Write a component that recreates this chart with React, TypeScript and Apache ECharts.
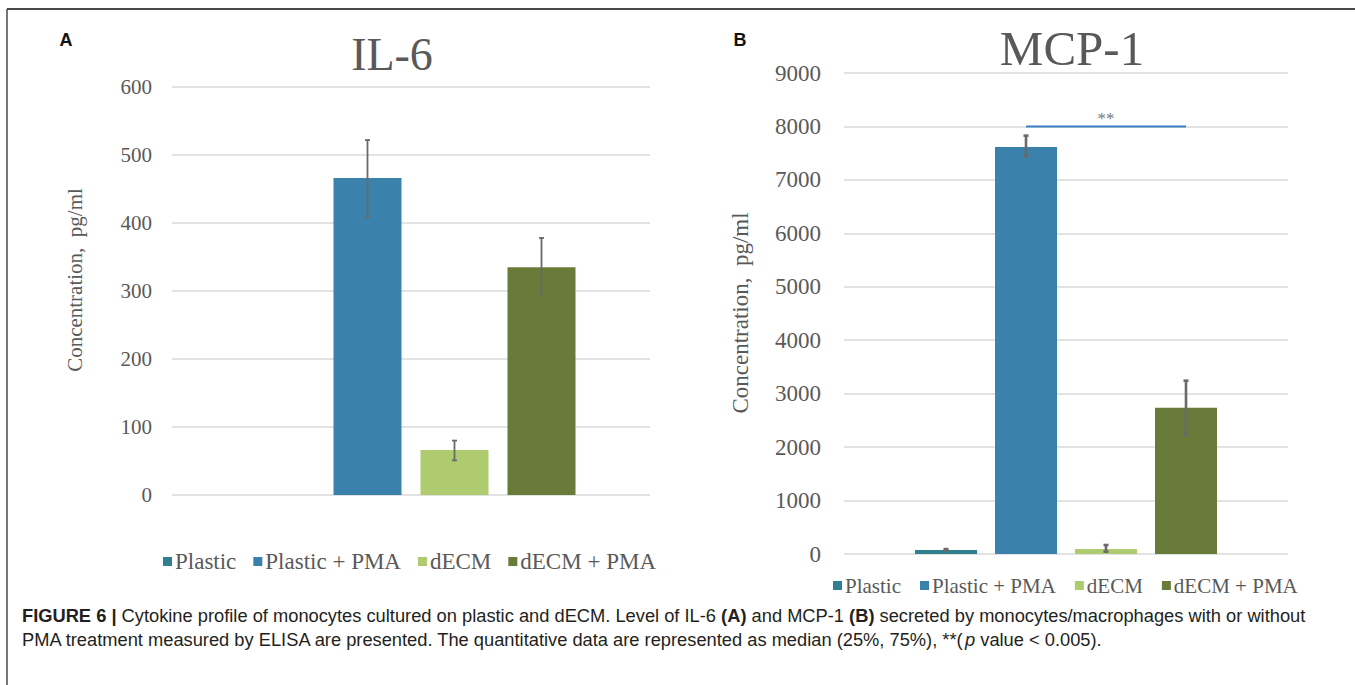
import { useEffect, useRef } from "react";
import * as echarts from "echarts";

// ---------- data ----------
const seriesNames = ["Plastic", "Plastic + PMA", "dECM", "dECM + PMA"];
const seriesColors = ["#2f7f91", "#3a82ab", "#aecb6f", "#687b38"];
const legendColors = ["#2f7f91", "#3a82ab", "#aecb6f", "#687b38"];

const il6Title = "IL-6";
const il6Median = [0, 466, 66, 335];
const il6Low: (number | null)[] = [null, 409, 51, 295];
const il6High: (number | null)[] = [null, 522, 80, 378];
const il6Axis = { min: 0, max: 600, interval: 100 };

const mcp1Title = "MCP-1";
const mcp1Median = [75, 7616, 94, 2738];
const mcp1Low: (number | null)[] = [62, 7435, 43, 2227];
const mcp1High: (number | null)[] = [92, 7828, 168, 3243];
const mcp1Axis = { min: 0, max: 9000, interval: 1000 };

const sigFrom = 1;
const sigTo = 3;
const sigLevel = 8000;
const sigLabel = "**";

const yAxisName = "Concentration,  pg/ml";
const captionLine1 =
  "{b|FIGURE 6 |} Cytokine profile of monocytes cultured on plastic and dECM. Level of IL-6 {b|(A)} and MCP-1 {b|(B)} secreted by monocytes/macrophages with or without";
const captionLine2 =
  "PMA treatment measured by ELISA are presented. The quantitative data are represented as median (25%, 75%), **({i|p} value < 0.005).";

// ---------- styles ----------
const SERIF = '"Liberation Serif", "Times New Roman", serif';
const SANS = '"Liberation Sans", Arial, sans-serif';
const GREY = "#595959";
const CAP_SIZE = 18.3;

type Panel = {
  grid: { left: number; top: number; width: number; height: number };
  barWidth: number;
  gap: number;
  tickSize: number;
  errWidth: number;
};

const panelA: Panel = {
  grid: { left: 172, top: 87, width: 478, height: 408 },
  barWidth: 68,
  gap: 19,
  tickSize: 21,
  errWidth: 1.8,
};
const panelB: Panel = {
  grid: { left: 844, top: 73, width: 444, height: 481 },
  barWidth: 62,
  gap: 18,
  tickSize: 23,
  errWidth: 2.6,
};

function errorSeries(
  axisIndex: number,
  low: (number | null)[],
  high: (number | null)[],
  p: Panel
) {
  const data: number[][] = [];
  low.forEach((l, i) => {
    const h = high[i];
    if (l != null && h != null) data.push([0, l, h, i]);
  });
  const step = p.barWidth + p.gap;
  return {
    type: "custom",
    xAxisIndex: axisIndex,
    yAxisIndex: axisIndex,
    z: 5,
    silent: true,
    encode: { x: 0, y: [1, 2] },
    data,
    renderItem: (_params: any, api: any) => {
      const idx = api.value(3);
      const lo = api.coord([api.value(0), api.value(1)]);
      const hi = api.coord([api.value(0), api.value(2)]);
      const x = lo[0] + (idx - (seriesNames.length - 1) / 2) * step;
      const style = { stroke: "#6a6a6a", lineWidth: p.errWidth };
      const cap = 2.5;
      return {
        type: "group",
        children: [
          { type: "line", shape: { x1: x, y1: lo[1], x2: x, y2: hi[1] }, style },
          { type: "line", shape: { x1: x - cap, y1: lo[1], x2: x + cap, y2: lo[1] }, style },
          { type: "line", shape: { x1: x - cap, y1: hi[1], x2: x + cap, y2: hi[1] }, style },
        ],
      };
    },
  };
}

export default function App() {
  const ref = useRef<HTMLDivElement>(null);

  useEffect(() => {
    if (!ref.current) return;
    const chart = echarts.init(ref.current, undefined, { renderer: "svg" });

    const panels = [panelA, panelB];
    const axes = [il6Axis, mcp1Axis];

    const barSeries: any[] = [];
    [il6Median, mcp1Median].forEach((vals, ai) => {
      const p = panels[ai];
      seriesNames.forEach((name, si) => {
        barSeries.push({
          type: "bar",
          name,
          xAxisIndex: ai,
          yAxisIndex: ai,
          data: [vals[si]],
          barWidth: p.barWidth,
          barGap: `${(p.gap / p.barWidth) * 100}%`,
          itemStyle: { color: seriesColors[si] },
          silent: true,
        });
      });
    });

    const stepB = panelB.barWidth + panelB.gap;
    const sigSeries = {
      type: "custom",
      xAxisIndex: 1,
      yAxisIndex: 1,
      z: 6,
      silent: true,
      data: [[0, sigLevel, sigFrom, sigTo]],
      renderItem: (_params: any, api: any) => {
        const c = api.coord([api.value(0), api.value(1)]);
        const mid = (seriesNames.length - 1) / 2;
        const x1 = c[0] + (api.value(2) - mid) * stepB;
        const x2 = c[0] + (api.value(3) - mid) * stepB;
        return {
          type: "group",
          children: [
            {
              type: "line",
              shape: { x1, y1: c[1], x2, y2: c[1] },
              style: { stroke: "#3a7fc4", lineWidth: 2 },
            },
            {
              type: "text",
              x: (x1 + x2) / 2,
              y: c[1] - 8,
              style: {
                text: sigLabel,
                fontSize: 17,
                fontFamily: SERIF,
                fill: "#777",
                align: "center",
                verticalAlign: "middle",
              },
            },
          ],
        };
      },
    };

    const legendBase = (left: number, top: number, size: number, gap: number) => ({
      left,
      top,
      data: seriesNames.map((n, i) => ({ name: n, itemStyle: { color: legendColors[i] } })),
      icon: "rect",
      itemWidth: 9,
      itemHeight: 9,
      itemGap: gap,
      textStyle: { color: GREY, fontFamily: SERIF, fontSize: size, padding: [0, 0, 0, -2] },
      selectedMode: false,
    });

    const option: any = {
      animation: false,
      backgroundColor: "#ffffff",
      grid: panels.map((p) => ({ ...p.grid, containLabel: false })),
      xAxis: panels.map((_, i) => ({
        type: "category",
        gridIndex: i,
        data: [""],
        axisLine: { show: false },
        axisTick: { show: false },
        axisLabel: { show: false },
      })),
      yAxis: panels.map((p, i) => ({
        type: "value",
        gridIndex: i,
        min: axes[i].min,
        max: axes[i].max,
        interval: axes[i].interval,
        axisLine: { show: false },
        axisTick: { show: false },
        axisLabel: {
          color: GREY,
          fontFamily: SERIF,
          fontSize: p.tickSize,
          margin: i === 0 ? 20 : 23,
          formatter: (v: number) => String(v),
        },
        splitLine: { lineStyle: { color: "#d9d9d9", width: 1.6 } },
      })),
      legend: [legendBase(158, 545, 23, 17), legendBase(828, 570, 21, 19)],
      series: [
        ...barSeries,
        errorSeries(0, il6Low, il6High, panelA),
        errorSeries(1, mcp1Low, mcp1High, panelB),
        sigSeries,
      ],
      graphic: [
        // frame
        { type: "line", shape: { x1: 7, y1: 9, x2: 1355, y2: 9 }, style: { stroke: "#4a4a4a", lineWidth: 2 } },
        { type: "line", shape: { x1: 7, y1: 9, x2: 7, y2: 685 }, style: { stroke: "#4a4a4a", lineWidth: 1.5 } },
        // panel letters
        {
          type: "text",
          x: 66,
          y: 40,
          style: { text: "A", fontFamily: SANS, fontWeight: "bold", fontSize: 18, fill: "#111", align: "center", verticalAlign: "middle" },
        },
        {
          type: "text",
          x: 740,
          y: 40,
          style: { text: "B", fontFamily: SANS, fontWeight: "bold", fontSize: 18, fill: "#111", align: "center", verticalAlign: "middle" },
        },
        // titles
        {
          type: "text",
          x: 392,
          y: 54,
          style: { text: il6Title, fontFamily: SERIF, fontSize: 46, fill: GREY, align: "center", verticalAlign: "middle" },
        },
        {
          type: "text",
          x: 1072,
          y: 48,
          style: { text: mcp1Title, fontFamily: SERIF, fontSize: 49, fill: GREY, align: "center", verticalAlign: "middle" },
        },
        // y axis names
        {
          type: "text",
          x: 75,
          y: 280,
          rotation: Math.PI / 2,
          style: { text: yAxisName, fontFamily: SERIF, fontSize: 21, fill: GREY, align: "center", verticalAlign: "middle" },
        },
        {
          type: "text",
          x: 740,
          y: 313,
          rotation: Math.PI / 2,
          style: { text: yAxisName, fontFamily: SERIF, fontSize: 23, fill: GREY, align: "center", verticalAlign: "middle" },
        },
        // caption
        {
          type: "text",
          x: 22,
          y: 615,
          style: {
            text: captionLine1,
            fontFamily: SANS,
            fontSize: CAP_SIZE,
            fill: "#231f20",
            verticalAlign: "middle",
            rich: { b: { fontWeight: "bold", fontFamily: SANS, fontSize: CAP_SIZE, fill: "#231f20" } },
          },
        },
        {
          type: "text",
          x: 22,
          y: 639,
          style: {
            text: captionLine2,
            fontFamily: SANS,
            fontSize: CAP_SIZE,
            fill: "#231f20",
            verticalAlign: "middle",
            rich: { i: { fontStyle: "italic", fontFamily: SANS, fontSize: CAP_SIZE, fill: "#231f20" } },
          },
        },
      ],
    };

    chart.setOption(option);
    return () => chart.dispose();
  }, []);

  return (
    <div
      ref={ref}
      style={{ position: "fixed", left: 0, top: 0, width: 1355, height: 685, background: "#fff" }}
    />
  );
}
